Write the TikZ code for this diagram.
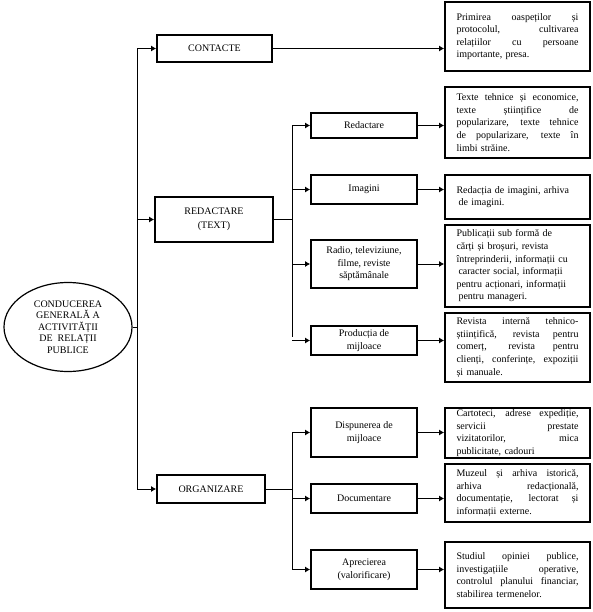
\documentclass[tikz,border=0pt]{standalone}
\usepackage{fontspec}
\setmainfont{Liberation Serif}
\usetikzlibrary{arrows.meta,shapes.geometric}
% one justified line of a note box
\newcommand{\jl}[1]{{\spaceskip=0pt\xspaceskip=0pt\makebox[122pt][s]{#1}}}
\tikzset{
  root/.style = {draw, ellipse, line width=1.2pt, align=center, minimum width=128pt, minimum height=89pt, inner sep=0pt, font=\fontsize{10}{11.5}\selectfont},
  unit/.style = {draw, line width=1.8pt, align=center, inner sep=0pt, font=\fontsize{10}{12.5}\selectfont},
  note/.style = {draw, line width=1.8pt, align=left, text width=122pt, minimum width=145pt, inner sep=0pt, font=\fontsize{10}{12.6}\selectfont},
  flow/.style = {-{Latex[length=5pt,width=6pt]}, line width=0.8pt},
  link/.style = {line width=0.8pt},
}
\begin{document}
\begin{tikzpicture}[x=1pt,y=-1pt]
  \useasboundingbox (0,0) rectangle (593,612);
  % root and first level
  \node[root] (root) at (68,327) {CONDUCEREA\\GENERALĂ A\\ACTIVITĂȚII\\DE\ \ RELAȚII\\PUBLICE};
  \node[unit, minimum width=115pt, minimum height=27pt] (contacte) at (214.5,48.5) {CONTACTE};
  \node[unit, minimum width=118pt, minimum height=45pt] (redactare) at (214,219.5) {REDACTARE\\[2pt](TEXT)};
  \node[unit, minimum width=108pt, minimum height=28pt] (organizare) at (211,489) {ORGANIZARE};
  \coordinate (t0) at (137,0);
  \coordinate (t1) at (292,0);
  % second level
  \node[unit, minimum width=106pt, minimum height=25pt] (redac) at (364,125.5) {Redactare};
  \node[unit, minimum width=106pt, minimum height=29pt] (imagini) at (364,189.5) {Imagini};
  \node[unit, minimum width=106pt, minimum height=48pt] (radio) at (364,264) {Radio, televiziune,\\filme, reviste\\săptămânale};
  \node[unit, minimum width=106pt, minimum height=29pt] (productia) at (364,340.5) {Producția de\\mijloace};
  \node[unit, minimum width=106pt, minimum height=49pt] (dispunerea) at (364,432.5) {Dispunerea de\\mijloace};
  \node[unit, minimum width=106pt, minimum height=29pt] (documentare) at (364,498.5) {Documentare};
  \node[unit, minimum width=106pt, minimum height=39pt] (aprecierea) at (364,569.5) {Aprecierea\\(valorificare)};
  % notes
  \node[note, minimum height=69pt] (n1) at (517.5,36.5) {\jl{Primirea oaspeților și}\\\jl{protocolul, cultivarea}\\\jl{relațiilor cu persoane}\\importante, presa.};
  \node[note, minimum height=71pt] (n2) at (517.5,122.5) {\jl{Texte tehnice și economice,}\\\jl{texte științifice de}\\\jl{popularizare, texte tehnice}\\\jl{de popularizare, texte în}\\limbi străine.};
  \node[note, minimum height=44pt] (n3) at (517.5,197) {Redacția de imagini, arhiva\\\hspace*{2pt}de imagini.};
  \node[note, minimum height=82pt] (n4) at (517.5,266) {Publicații sub formă de\\cărți și broșuri, revista\\întreprinderii, informații cu\\\hspace*{2pt}caracter social, informații\\pentru acționari, informații\\\hspace*{2pt}pentru manageri.};
  \node[note, minimum height=69pt] (n5) at (517.5,347.5) {\jl{Revista internă tehnico-}\\\jl{științifică, revista pentru}\\\jl{comerț, revista pentru}\\\jl{clienți, conferințe, expoziții}\\și manuale.};
  \node[note, minimum height=50pt] (n6) at (517.5,433) {\jl{Cartoteci, adrese expediție,}\\\jl{servicii prestate}\\\jl{vizitatorilor, mica}\\publicitate, cadouri};
  \node[note, minimum height=58pt] (n7) at (517.5,493) {\jl{Muzeul și arhiva istorică,}\\\jl{arhiva redacțională,}\\\jl{documentație, lectorat și}\\informații externe.};
  \node[note, minimum height=66pt] (n8) at (517.5,575) {\jl{Studiul opiniei publice,}\\\jl{investigațiile operative,}\\\jl{controlul planului financiar,}\\stabilirea termenelor.};
  % main trunk
  \draw[link] (root.east) -- (root.east -| t0);
  \draw[link] (contacte.west -| t0) -- (organizare.west -| t0);
  \foreach \n in {contacte,redactare,organizare}
    \draw[flow] (\n.west -| t0) -- (\n.west);
  % sub trunks
  \draw[link] (redactare.east) -- (redactare.east -| t1);
  \draw[link] (redac.west -| t1) -- ([yshift=4pt]productia.west -| t1);
  \draw[link] (organizare.east) -- (organizare.east -| t1);
  \draw[link] (dispunerea.west -| t1) -- (aprecierea.west -| t1);
  \foreach \n in {redac,imagini,radio,productia,dispunerea,documentare,aprecierea}
    \draw[flow] (\n.west -| t1) -- (\n.west);
  % to notes
  \foreach \a/\b in {contacte/n1,redac/n2,imagini/n3,radio/n4,productia/n5,dispunerea/n6,documentare/n7,aprecierea/n8}
    \draw[flow] (\a.east) -- (\a.east -| \b.west);
\end{tikzpicture}
\end{document}
